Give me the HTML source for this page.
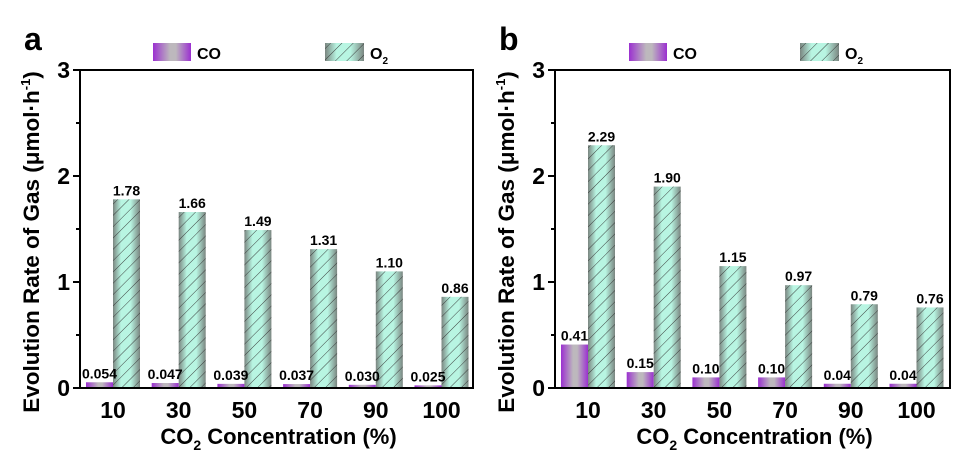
<!DOCTYPE html>
<html><head><meta charset="utf-8">
<style>
html,body{margin:0;padding:0;background:#fff;}
svg{display:block;font-family:"Liberation Sans",Arial,sans-serif;font-weight:bold;}
</style></head>
<body>
<svg id="chart" width="954" height="454" viewBox="0 0 954 454" xmlns="http://www.w3.org/2000/svg">
<defs>
  <linearGradient id="gCO" x1="0" x2="1" y1="0" y2="0">
    <stop offset="0" stop-color="#9b30d0"/>
    <stop offset="0.45" stop-color="#bdb8bd"/>
    <stop offset="0.6" stop-color="#bdb8bd"/>
    <stop offset="1" stop-color="#9b30d0"/>
  </linearGradient>
  <linearGradient id="gO2" x1="0" x2="1" y1="0" y2="0">
    <stop offset="0" stop-color="#7a8580"/>
    <stop offset="0.3" stop-color="#b8f5e2"/>
    <stop offset="0.65" stop-color="#b8f5e2"/>
    <stop offset="1" stop-color="#7a8580"/>
  </linearGradient>
  <pattern id="hatch" width="8" height="8" patternUnits="userSpaceOnUse" patternTransform="rotate(45)">
    <line x1="0" y1="0" x2="0" y2="8" stroke="#333" stroke-width="0.9"/>
  </pattern>
</defs>
</svg>
<script>
const categories = ["10","30","50","70","90","100"];
const coA = [0.054,0.047,0.039,0.037,0.030,0.025];
const o2A = [1.78,1.66,1.49,1.31,1.10,0.86];
const coALabels = ["0.054","0.047","0.039","0.037","0.030","0.025"];
const o2ALabels = ["1.78","1.66","1.49","1.31","1.10","0.86"];
const coB = [0.41,0.15,0.10,0.10,0.04,0.04];
const o2B = [2.29,1.90,1.15,0.97,0.79,0.76];
const coBLabels = ["0.41","0.15","0.10","0.10","0.04","0.04"];
const o2BLabels = ["2.29","1.90","1.15","0.97","0.79","0.76"];
const yTicks = [0,1,2,3];

const NS="http://www.w3.org/2000/svg";
const svg=document.getElementById('chart');
function mk(tag,attrs,parent){const e=document.createElementNS(NS,tag);for(const k in attrs)e.setAttribute(k,attrs[k]);(parent||svg).appendChild(e);return e;}

function panel(id,L,R,letter,coV,o2V,coL,o2L,legCO,legO2){
  const T=70,B=388,ymax=3;
  const g=mk('g',{});
  
  
  const y=v=>B-(v/ymax)*(B-T);
  const x=i=>L+33+i*65.7;
  const bw=27;
  for(let i=0;i<categories.length;i++){
    const c=x(i);
    const r1=mk('rect',{x:c-bw,y:y(coV[i]),width:bw,height:B-y(coV[i]),fill:'url(#gCO)'},g);
    
    
    const r2=mk('rect',{x:c,y:y(o2V[i]),width:bw,height:B-y(o2V[i]),fill:'url(#gO2)'},g);
    
    
    mk('rect',{x:c,y:y(o2V[i]),width:bw,height:B-y(o2V[i]),fill:'url(#hatch)'},g);
    const t1=mk('text',{x:c-bw/2,y:y(coV[i])-4,'font-size':14,'text-anchor':'middle'},g);
    t1.textContent=coL[i];
    
    
    const t2=mk('text',{x:c+bw/2,y:y(o2V[i])-4,'font-size':14,'text-anchor':'middle'},g);
    t2.textContent=o2L[i];
    
    
    const xl=mk('text',{x:c,y:B+30,'font-size':23,'text-anchor':'middle'},g);
    xl.textContent=categories[i];
    
    
  }
  const fr=mk('rect',{x:L,y:T,width:R-L,height:B-T,fill:'none',stroke:'#000','stroke-width':2},g);
  
  
  for(let v=0;v<=3;v+=0.5){
    const major=Number.isInteger(v);
    mk('line',{x1:L,x2:L-(major?7:4),y1:y(v),y2:y(v),stroke:'#000','stroke-width':2},g);
  }
  yTicks.forEach(v=>{
    const t=mk('text',{x:L-10,y:y(v)+8,'font-size':23,'text-anchor':'end'},g);
    t.textContent=v;
    
    
  });
  const yt=mk('text',{transform:`translate(${L-41},${(T+B)/2+13}) rotate(-90)`,'font-size':22.5,'text-anchor':'middle'},g);
  yt.innerHTML='Evolution Rate of Gas (μmol·h<tspan dy="-9" font-size="13">-1</tspan><tspan dy="9">)</tspan>';
  
  
  const xt=mk('text',{x:(L+R)/2+2,y:444,'font-size':22,'text-anchor':'middle'},g);
  xt.innerHTML='CO<tspan dy="6" font-size="14">2</tspan><tspan dy="-6"> Concentration (%)</tspan>';
  
  
  const pl=mk('text',{x:L-56,y:50,'font-size':32},g);
  pl.textContent=letter;
  
  
  const lc=mk('rect',{x:legCO,y:43,width:38,height:18,fill:'url(#gCO)'},g);
  
  
  const lct=mk('text',{x:legCO+44,y:59,'font-size':16},g);
  lct.textContent='CO';
  
  
  const lo=mk('rect',{x:legO2,y:43,width:39,height:18,fill:'url(#gO2)'},g);
  
  
  mk('rect',{x:legO2,y:43,width:39,height:18,fill:'url(#hatch)'},g);
  const lot=mk('text',{x:legO2+45,y:59,'font-size':16},g);
  lot.innerHTML='O<tspan dy="5" font-size="10">2</tspan>';
  
  
}
panel('a',80,473,'a',coA,o2A,coALabels,o2ALabels,153,325);
panel('b',555,950,'b',coB,o2B,coBLabels,o2BLabels,629,800);
</script>
</body></html>
